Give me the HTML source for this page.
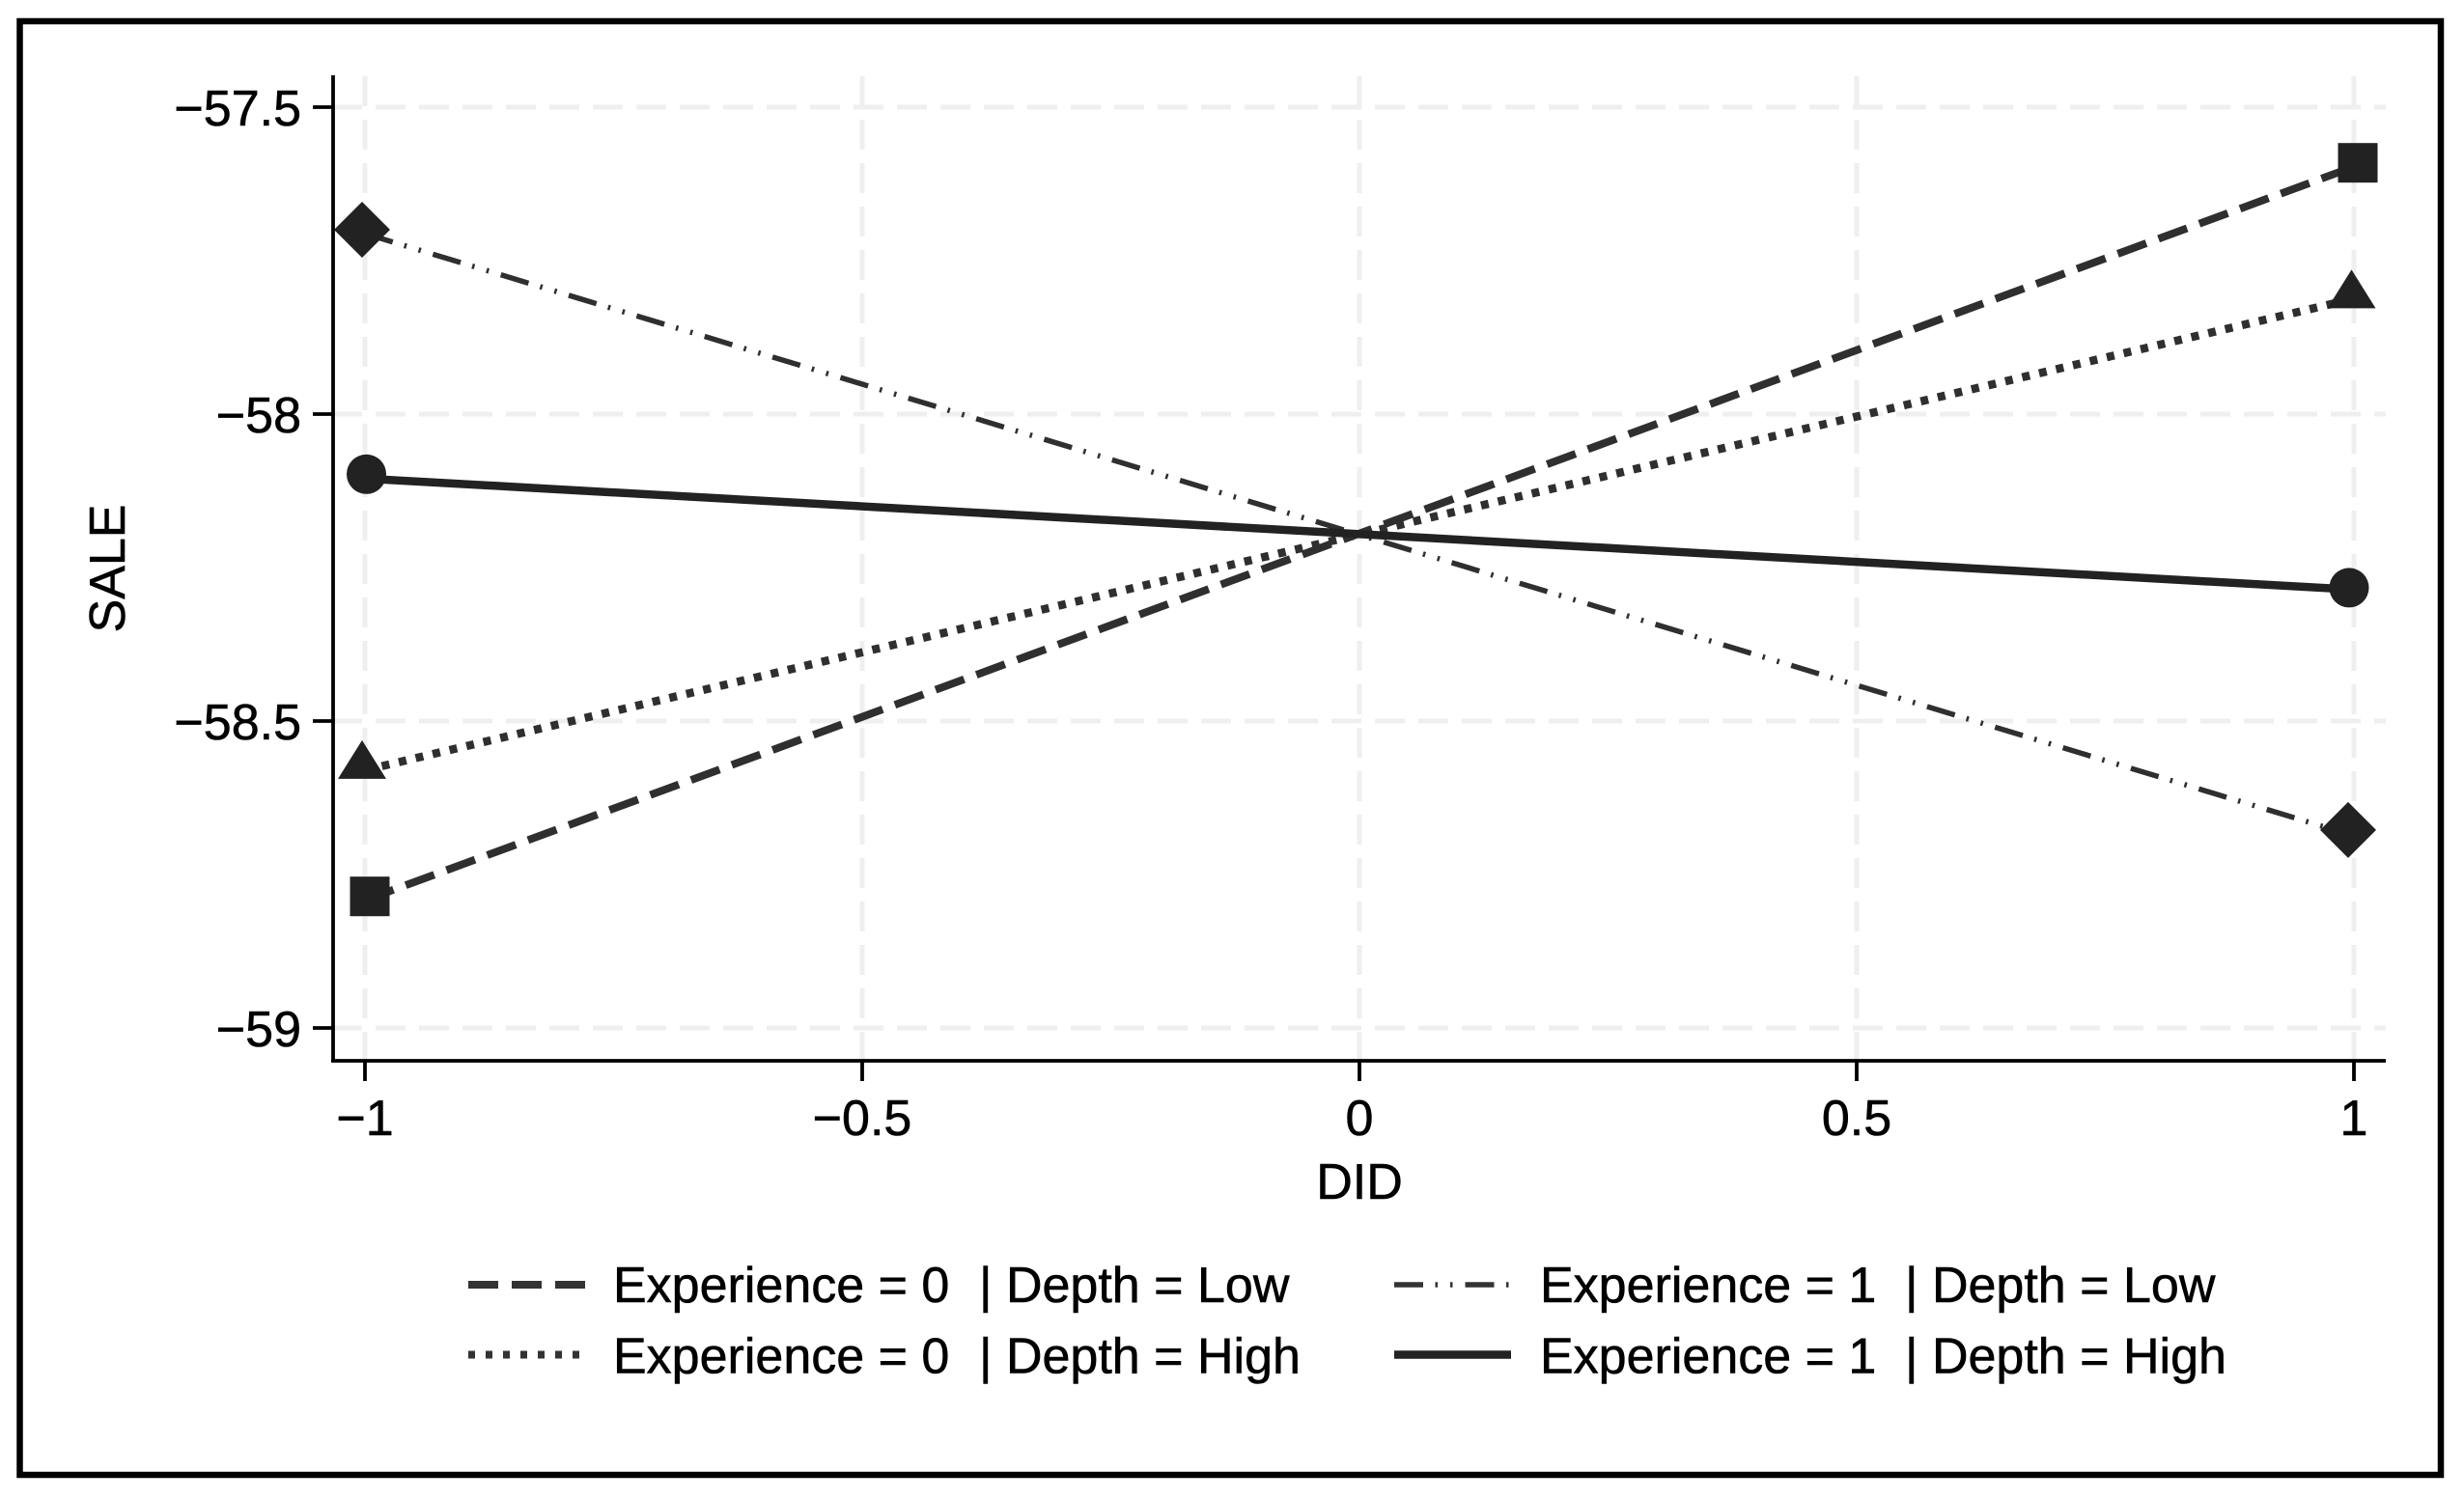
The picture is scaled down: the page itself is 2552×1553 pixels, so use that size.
<!DOCTYPE html>
<html lang="en">
<head>
<meta charset="utf-8">
<title>SALE by DID interaction plot</title>
<style>
  html, body { margin: 0; padding: 0; background: #fff; width: 2552px; height: 1553px; overflow: hidden; }
  svg { display: block; }
  text { font-family: "Liberation Sans", Arial, sans-serif; fill: #000; font-size: 52px; stroke: #000; stroke-width: 0.6px; }
</style>
</head>
<body>
<svg id="chart" xmlns="http://www.w3.org/2000/svg" width="2552" height="1553" viewBox="0 0 2552 1553">
  <rect x="0" y="0" width="2552" height="1553" fill="#ffffff"/>
  <rect x="20.5" y="22" width="2507.5" height="1506" fill="none" stroke="#000" stroke-width="6.5"/>
  <g id="grid"></g>
  <g id="series"></g>
  <g id="markers"></g>
  <g id="axes">
    <line x1="345" y1="78" x2="345" y2="1100.5" stroke="#000" stroke-width="3.8"/>
    <line x1="343" y1="1099" x2="2471" y2="1099" stroke="#000" stroke-width="3.8"/>
  </g>
  <text x="1408" y="1242" text-anchor="middle">DID</text>
  <text transform="translate(129 589) rotate(-90)" text-anchor="middle">SALE</text>
  <g id="legend">
    <g>
      <line x1="485" y1="1331" x2="606" y2="1331" stroke="#333" stroke-width="8" stroke-dasharray="31 14"/>
      <text x="635" y="1349">Experience = 0<tspan x="1014">| Depth = Low</tspan></text>
    </g>
    <g>
      <line x1="485" y1="1403.5" x2="603" y2="1403.5" stroke="#333" stroke-width="8" stroke-dasharray="7 11"/>
      <text x="635" y="1422.5">Experience = 0<tspan x="1014">| Depth = High</tspan></text>
    </g>
    <g>
      <line x1="1444" y1="1331" x2="1564" y2="1331" stroke="#333" stroke-width="5.5" stroke-dasharray="30 12.5 2.5 13 2.5 13"/>
      <text x="1595" y="1349">Experience = 1<tspan x="1973">| Depth = Low</tspan></text>
    </g>
    <g>
      <line x1="1444" y1="1403.5" x2="1565" y2="1403.5" stroke="#222" stroke-width="8.5"/>
      <text x="1595" y="1422.5">Experience = 1<tspan x="1973">| Depth = High</tspan></text>
    </g>
  </g>
</svg>
<script>
const didValues = [-1, 1];
const exp0LowValues = [-58.792, -57.597];
const exp0HighValues = [-58.58, -57.812];
const exp1LowValues = [-57.706, -58.687];
const exp1HighValues = [-58.105, -58.286];
const xTickValues = [-1, -0.5, 0, 0.5, 1];
const xTickLabels = ['\u22121', '\u22120.5', '0', '0.5', '1'];
const yTickValues = [-57.5, -58, -58.5, -59];
const yTickLabels = ['\u221257.5', '\u221258', '\u221258.5', '\u221259'];

const NS = 'http://www.w3.org/2000/svg';
function xScale(v) { return 1408 + v * 1030; }
function yScale(v) { return 111 + (-57.5 - v) * 636; }

function make(tag, attrs, parent) {
  const el = document.createElementNS(NS, tag);
  Object.keys(attrs).forEach(function (k) { el.setAttribute(k, attrs[k]); });
  parent.appendChild(el);
  return el;
}

const gridGroup = document.getElementById('grid');
const axesGroup = document.getElementById('axes');
const seriesGroup = document.getElementById('series');
const markerGroup = document.getElementById('markers');

yTickValues.forEach(function (v, i) {
  const y = yScale(v);
  const grid = make('line', { x1: 344, y1: y, x2: 2471, y2: y, stroke: '#efefef', 'stroke-width': 5, 'stroke-dasharray': '31 14' }, gridGroup);
  
  
  const tick = make('line', { x1: 324, y1: y, x2: 344, y2: y, stroke: '#000', 'stroke-width': 3.8 }, axesGroup);
  
  
  const label = make('text', { x: 312, y: y + 19, 'text-anchor': 'end' }, axesGroup);
  
  
  label.textContent = yTickLabels[i];
});

xTickValues.forEach(function (v, i) {
  const x = xScale(v);
  const grid = make('line', { x1: x, y1: 79, x2: x, y2: 1099, stroke: '#efefef', 'stroke-width': 5, 'stroke-dasharray': '31 14' }, gridGroup);
  
  
  const tick = make('line', { x1: x, y1: 1099, x2: x, y2: 1120, stroke: '#000', 'stroke-width': 3.8 }, axesGroup);
  
  
  const label = make('text', { x: x, y: 1176, 'text-anchor': 'middle' }, axesGroup);
  
  
  label.textContent = xTickLabels[i];
});

function drawLine(values, name, stroke, width, dash) {
  const attrs = { x1: xScale(didValues[0]), y1: yScale(values[0]), x2: xScale(didValues[1]), y2: yScale(values[1]), stroke: stroke, 'stroke-width': width };
  if (dash) attrs['stroke-dasharray'] = dash;
  const line = make('line', attrs, seriesGroup);
  
  
}

function drawSquare(cx, cy) {
  const s = make('rect', { x: cx - 20.5, y: cy - 20.5, width: 41, height: 41, fill: '#222' }, markerGroup);
  
  
}
function drawTriangle(cx, cy) {
  const pts = [[cx, cy - 30], [cx + 25, cy + 10], [cx - 25, cy + 10]].map(function (p) { return p.join(','); }).join(' ');
  const s = make('polygon', { points: pts, fill: '#222' }, markerGroup);
  
  
}
function drawDiamond(cx, cy) {
  const pts = [[cx, cy - 29], [cx + 29, cy], [cx, cy + 29], [cx - 29, cy]].map(function (p) { return p.join(','); }).join(' ');
  const s = make('polygon', { points: pts, fill: '#222' }, markerGroup);
  
  
}
function drawCircle(cx, cy) {
  const s = make('circle', { cx: cx, cy: cy, r: 20.5, fill: '#222' }, markerGroup);
  
  
}

drawLine(exp0LowValues, 'line-exp0-depth-low', '#2f2f2f', 8, '31.5 13.5');
drawLine(exp0HighValues, 'line-exp0-depth-high', '#2f2f2f', 8.5, '8 10');
drawLine(exp1LowValues, 'line-exp1-depth-low', '#2f2f2f', 5.5, '30 12.5 2.5 13 2.5 13');
drawLine(exp1HighValues, 'line-exp1-depth-high', '#222', 8.5, null);

drawSquare(xScale(didValues[0]) + 5, yScale(exp0LowValues[0]) - 4);
drawSquare(xScale(didValues[1]) + 4, yScale(exp0LowValues[1]) - 4);
drawTriangle(xScale(didValues[0]) - 3, yScale(exp0HighValues[0]) - 1);
drawTriangle(xScale(didValues[1]) - 2.5, yScale(exp0HighValues[1]) + 0);
drawDiamond(xScale(didValues[0]) - 3, yScale(exp1LowValues[0]) - 4);
drawDiamond(xScale(didValues[1]) - 6, yScale(exp1LowValues[1]) - 6);
drawCircle(xScale(didValues[0]) + 1.5, yScale(exp1HighValues[0]) - 4.5);
drawCircle(xScale(didValues[1]) - 5, yScale(exp1HighValues[1]) - 2);
</script>
</body>
</html>
